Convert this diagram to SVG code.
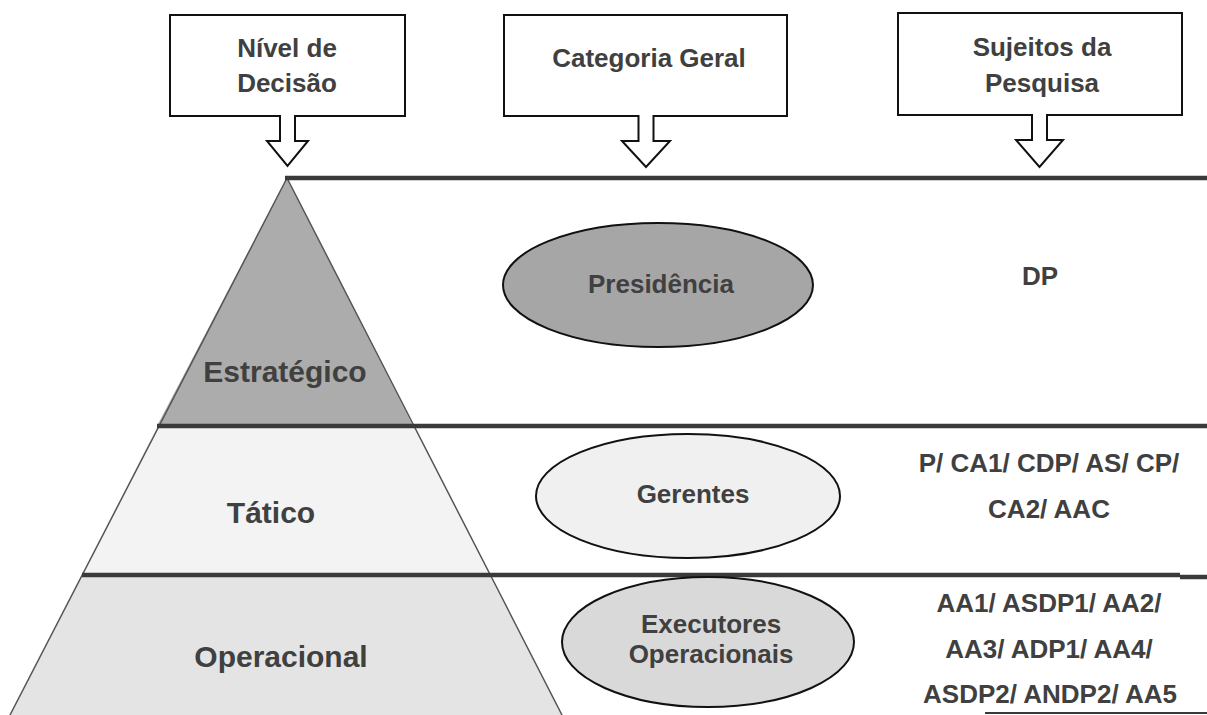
<svg xmlns="http://www.w3.org/2000/svg" width="1207" height="715" viewBox="0 0 1207 715">
  <style>
    text { font-family: "Liberation Sans", Arial, sans-serif; font-weight: bold; fill: #404040; text-anchor: middle; }
    .hdr { font-size: 26px; }
    .lvl { font-size: 30px; }
    .ell { font-size: 26px; }
    .sub { font-size: 26px; }
    .callout { fill: #ffffff; stroke: #111111; stroke-width: 2; stroke-linejoin: miter; }
    .oval { stroke: #111111; stroke-width: 2; }
    .div { stroke: #3a3a3a; stroke-width: 4.5; fill: none; }
    .edge { stroke: #555555; stroke-width: 1.5; fill: none; }
  </style>
  <rect width="1207" height="715" fill="#ffffff"/>

  <g id="pyramid">
    <polygon points="287,178 157,426 413,426" fill="#acacac"/>
    <polygon points="157,426 413,426 489,575 82,575" fill="#f3f3f3"/>
    <polygon points="82,575 489,575 562,715 10,715" fill="#e4e4e4"/>
    <path class="edge" d="M287,178 L10,715 M287,178 L562,715"/>
  </g>

  <g id="connectors">
    <path class="div" d="M285,178 H1207"/>
    <path class="div" d="M157,426 H1207"/>
    <path class="div" d="M82,575 H1180"/>
    <path class="div" d="M1180,577 H1207"/>
    <path d="M985,713 H1207" stroke="#3a3a3a" stroke-width="2"/>
  </g>

  <g id="box-nivel">
    <path class="callout" d="M170,15 H405 V116 H295 V141 H308 L287.5,166 L267,141 H280 V116 H170 Z"/>
    <text class="hdr" x="287" y="57">Nível de</text>
    <text class="hdr" x="287" y="92">Decisão</text>
  </g>

  <g id="box-categoria">
    <path class="callout" d="M504,15 H787 V116 H653.5 V141 H670 L646,167 L622,141 H638.5 V116 H504 Z"/>
    <text class="hdr" x="649" y="67">Categoria Geral</text>
  </g>

  <g id="box-sujeitos">
    <path class="callout" d="M898,13 H1182 V115 H1047 V140 H1063 L1039.5,167 L1016,140 H1032 V115 H898 Z"/>
    <text class="hdr" x="1042" y="56">Sujeitos da</text>
    <text class="hdr" x="1042" y="92">Pesquisa</text>
  </g>

  <g id="level-estrategico">
    <text class="lvl" x="285" y="382">Estratégico</text>
  </g>
  <g id="level-tatico">
    <text class="lvl" x="271" y="523">Tático</text>
  </g>
  <g id="level-operacional">
    <text class="lvl" x="281" y="667">Operacional</text>
  </g>

  <g id="cat-presidencia">
    <ellipse class="oval" cx="658" cy="285" rx="155" ry="62" fill="#a6a6a6"/>
    <text class="ell" x="661" y="293">Presidência</text>
  </g>
  <g id="cat-gerentes">
    <ellipse class="oval" cx="688" cy="496" rx="152" ry="62" fill="#f0f0f0"/>
    <text class="ell" x="693" y="503">Gerentes</text>
  </g>
  <g id="cat-executores">
    <ellipse class="oval" cx="708" cy="642" rx="146" ry="65" fill="#d9d9d9"/>
    <text class="ell" x="711" y="633">Executores</text>
    <text class="ell" x="711" y="663">Operacionais</text>
  </g>

  <g id="sujeitos-estrategico">
    <text class="sub" x="1040" y="285">DP</text>
  </g>
  <g id="sujeitos-tatico">
    <text class="sub" x="1049" y="472">P/ CA1/ CDP/ AS/ CP/</text>
    <text class="sub" x="1049" y="518">CA2/ AAC</text>
  </g>
  <g id="sujeitos-operacional">
    <text class="sub" x="1049" y="612">AA1/ ASDP1/ AA2/</text>
    <text class="sub" x="1049" y="658">AA3/ ADP1/ AA4/</text>
    <text class="sub" x="1050" y="703">ASDP2/ ANDP2/ AA5</text>
  </g>
</svg>
